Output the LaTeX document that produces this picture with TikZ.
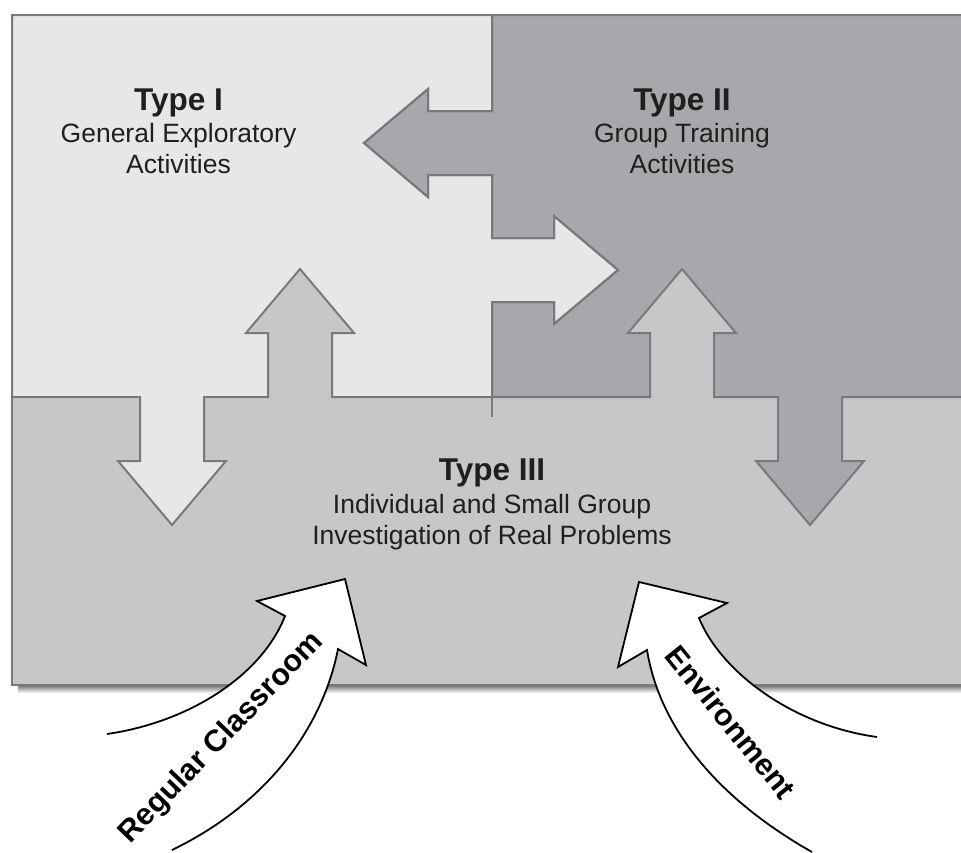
\documentclass[tikz,border=0pt]{standalone}
\usepackage{fontspec}
\setmainfont{Liberation Sans}
\begin{document}
\begin{tikzpicture}[x=1pt,y=-1pt,line join=miter]
  % palette
  \definecolor{typeone}{HTML}{E6E7E9}
  \definecolor{typetwo}{HTML}{A7A8AB}
  \definecolor{typethree}{HTML}{C6C7C9}
  \definecolor{frame}{HTML}{78797C}
  \definecolor{shade}{HTML}{D6D7D9}
  \tikzset{
    border/.style={draw=frame,line width=2pt},
    title/.style={font=\fontsize{31.5}{36}\selectfont\bfseries,anchor=base,text=black!88},
    subtitle/.style={font=\fontsize{26.5}{32}\selectfont,anchor=base,text=black!88},
    bentarrow/.style={draw=black,line width=1.8pt},
    bentlabel/.style={font=\fontsize{30.5}{36}\selectfont\bfseries,text=black}
  }
  \useasboundingbox (0,0) rectangle (961,852);

  % drop shadow and the Type III field
  \fill[shade] (18,686) rectangle (965,693);
  \fill[typethree] (12,15) rectangle (965,685);

  % Type I field, with its arrows into Type II and Type III
  \def\typeonepath{(12,15) -- (492,15) -- (492,111) -- (428,111) -- (428,89) -- (364,143)
    -- (428,197) -- (428,175) -- (492,175) -- (492,238) -- (554,238) -- (554,216)
    -- (618,270) -- (554,324) -- (554,302) -- (492,302) -- (492,397) -- (332,397)
    -- (332,333) -- (354,333) -- (300,269) -- (246,333) -- (268,333) -- (268,397)
    -- (204,397) -- (204,461) -- (226,461) -- (172,525) -- (118,461) -- (140,461)
    -- (140,397) -- (12,397) -- cycle}
  % Type II field, with its arrows into Type I and Type III
  \def\typetwopath{(492,15) -- (965,15) -- (965,397) -- (842,397) -- (842,461)
    -- (864,461) -- (810,525) -- (756,461) -- (778,461) -- (778,397) -- (714,397)
    -- (714,333) -- (736,333) -- (682,269) -- (628,333) -- (650,333) -- (650,397)
    -- (492,397) -- (492,302) -- (554,302) -- (554,324) -- (618,270) -- (554,216)
    -- (554,238) -- (492,238) -- (492,175) -- (428,175) -- (428,197) -- (364,143)
    -- (428,89) -- (428,111) -- (492,111) -- cycle}
  \fill[typeone] \typeonepath;
  \fill[typetwo] \typetwopath;
  \draw[border] \typeonepath;
  \draw[border] \typetwopath;
  \draw[border] (12,15) rectangle (965,685);
  \coordinate (tickA) at (492,397);
  \coordinate (tickB) at (492,417);
  \draw[border] (tickA) -- (tickB);

  % texts of the three fields
  \node[title] (t1) at (178.5,110) {Type I};
  \node[subtitle] (t1a) at (178.5,142) {General Exploratory};
  \node[subtitle] (t1b) at (178.5,173) {Activities};
  \node[title] (t2) at (682,110) {Type II};
  \node[subtitle] (t2a) at (682,142) {Group Training};
  \node[subtitle] (t2b) at (682,173) {Activities};
  \node[title] (t3) at (492,480) {Type III};
  \node[subtitle] (t3a) at (492,513) {Individual and Small Group};
  \node[subtitle] (t3b) at (492,544) {Investigation of Real Problems};

  % curved arrow: Regular Classroom
  \fill[white] (107,734) .. controls (190,722) and (262,675) .. (285,616)
    -- (257,601) -- (345,579) -- (366,665) -- (338,649)
    .. controls (322,730) and (265,805) .. (172,850) -- cycle;
  \draw[bentarrow] (107,734) .. controls (190,722) and (262,675) .. (285,616)
    -- (257,601) -- (345,579) -- (366,665) -- (338,649)
    .. controls (322,730) and (265,805) .. (172,850);
  \node[bentlabel,rotate=46] (rc) at (222,738) {Regular Classroom};

  % curved arrow: Environment
  \fill[white] (877,737) .. controls (790,725) and (720,670) .. (699,618)
    -- (727,603) -- (639,582) -- (618,667) -- (647,650)
    .. controls (660,730) and (720,800) .. (812,852) -- cycle;
  \draw[bentarrow] (877,737) .. controls (790,725) and (720,670) .. (699,618)
    -- (727,603) -- (639,582) -- (618,667) -- (647,650)
    .. controls (660,730) and (720,800) .. (812,852);
  \node[bentlabel,rotate=-51] (env) at (731,722) {Environment};
\end{tikzpicture}
\end{document}
